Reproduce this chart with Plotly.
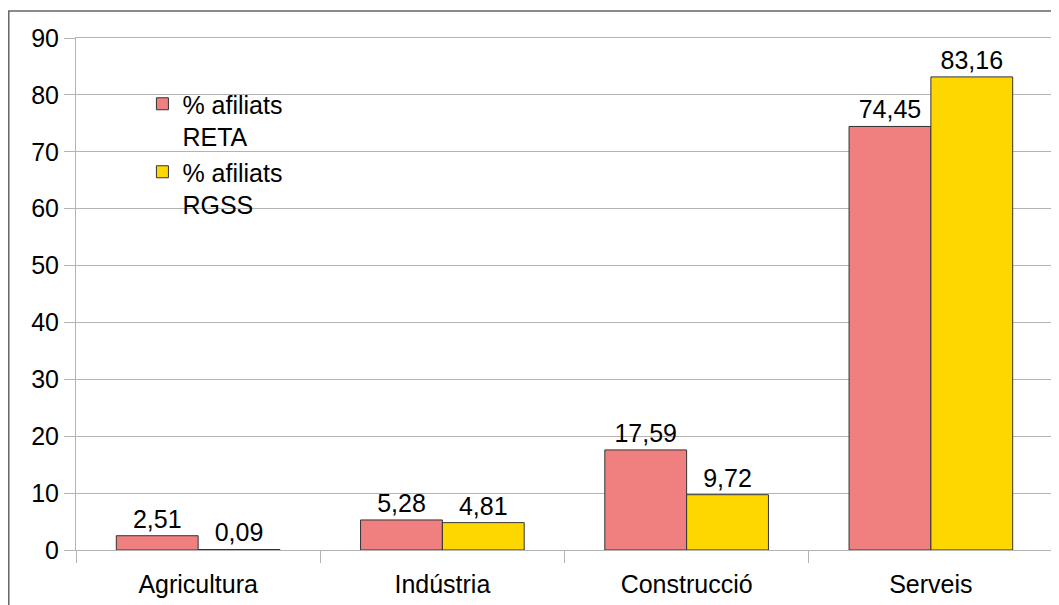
import plotly.graph_objects as go

categories = ["Agricultura", "Indústria", "Construcció", "Serveis"]
reta = [2.51, 5.28, 17.59, 74.45]
rgss = [0.09, 4.81, 9.72, 83.16]
series_names = ["% afiliats<br>RETA", "% afiliats<br>RGSS"]
y_ticks = list(range(0, 91, 10))

FONT = "Liberation Sans, Arial, sans-serif"
FS = 25
GRID = "#b3b3b3"

fig = go.Figure()
fig.add_trace(go.Bar(
    x=categories, y=reta, name=series_names[0],
    marker=dict(color="#F08080", line=dict(color="#333333", width=1)),
    texttemplate="%{y:.2f}", textposition="outside", cliponaxis=False,
    constraintext="none", textfont=dict(family=FONT, size=FS, color="black"),
))
fig.add_trace(go.Bar(
    x=categories, y=rgss, name=series_names[1],
    marker=dict(color="#FFD700", line=dict(color="#333333", width=1)),
    texttemplate="%{y:.2f}", textposition="outside", cliponaxis=False,
    constraintext="none", textfont=dict(family=FONT, size=FS, color="black"),
))

fig.update_layout(
    width=1059, height=605,
    margin=dict(l=68, r=14, t=30, b=63, pad=0, autoexpand=False),
    paper_bgcolor="white", plot_bgcolor="white",
    separators=",.",
    barmode="group", bargap=0.33, bargroupgap=0,
    font=dict(family=FONT, size=FS, color="black"),
    showlegend=True,
    legend=dict(
        x=0.068, y=0.916, xanchor="left", yanchor="top",
        bgcolor="rgba(0,0,0,0)", valign="top",
        font=dict(family=FONT, size=FS, color="black"),
        tracegroupgap=0,
    ),
    xaxis=dict(
        automargin=False,
        showgrid=False, showline=True, linecolor=GRID, linewidth=1, mirror=True,
        ticks="outside", tickson="boundaries", ticklen=12, tickcolor=GRID,
        ticklabelstandoff=12,
        tickfont=dict(family=FONT, size=FS, color="black"),
    ),
    yaxis=dict(
        automargin=False,
        range=[0, 90], tickvals=y_ticks, showgrid=True, gridcolor=GRID, gridwidth=1,
        showline=True, linecolor=GRID, linewidth=1, mirror=True,
        ticks="outside", ticklen=11, tickcolor=GRID, zeroline=False,
        tickfont=dict(family=FONT, size=FS, color="black"),
    ),
    shapes=[dict(
        type="rect", xref="paper", yref="paper",
        x0=-0.0688, x1=1.05, y0=-0.3, y1=1.0527,
        line=dict(color="#666666", width=1.5), layer="below",
    )],
)

fig.write_html("out.html")
